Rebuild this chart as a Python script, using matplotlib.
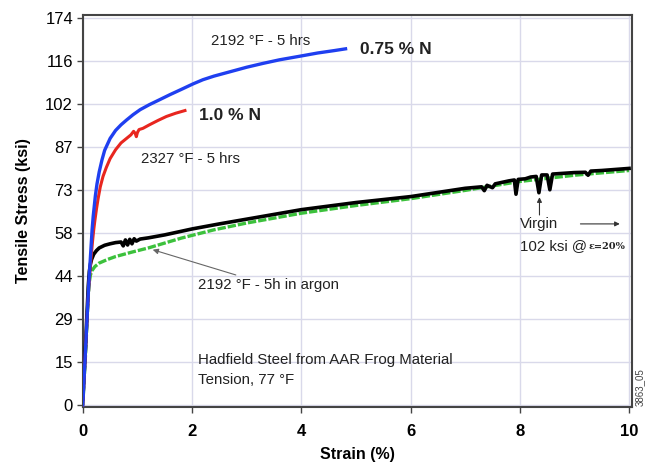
import numpy as np
import matplotlib
matplotlib.use('Agg')
import matplotlib.pyplot as plt

plt.rcParams['font.family'] = ['Liberation Sans', 'DejaVu Sans']

# Данные (деформация, %; напряжение, ksi)
blue_strain = [0, 0.04, 0.08, 0.11, 0.13, 0.15, 0.17, 0.19, 0.21, 0.23, 0.26, 0.3,
               0.35, 0.4, 0.5, 0.6, 0.7, 0.8, 0.92, 1.05, 1.22, 1.4, 1.6, 1.8, 2.02,
               2.2, 2.4, 2.7, 3.0, 3.3, 3.6, 4.0, 4.3, 4.6, 4.81]
blue_stress = [0, 15, 30, 41, 47, 53, 59, 63.5, 67, 70.5, 74.5, 78.5,
               82.5, 85.8, 89.8, 92.5, 94.4, 96, 97.8, 99.5, 101.2, 102.8, 104.6, 106.3, 108.2,
               109.6, 110.8, 112.3, 113.8, 115.1, 116.3, 117.6, 118.6, 119.4, 120]

red_strain = [0, 0.04, 0.08, 0.11, 0.14, 0.16, 0.18, 0.2, 0.22, 0.25, 0.28, 0.32,
              0.37, 0.43, 0.5, 0.6, 0.7, 0.8, 0.88, 0.93, 0.96, 0.98, 1.0, 1.03,
              1.1, 1.22, 1.38, 1.53, 1.7, 1.87]
red_stress = [0, 15, 30, 40, 47, 51.5, 55.5, 59, 62, 66, 69.5, 73.5,
              77, 80, 83, 86, 88.3, 89.8, 91, 92.2, 91.5, 90.4, 91.8, 92.8,
              93.2, 94.4, 95.9, 97.2, 98.3, 99.2]

black_strain = [0, 0.05, 0.1, 0.12, 0.14, 0.16, 0.2, 0.25, 0.3, 0.4, 0.5, 0.6, 0.7,
                0.74, 0.78, 0.82, 0.86, 0.9, 0.94, 0.98, 1.05, 1.2, 1.5, 2.0, 2.5, 3.0,
                3.5, 4.0, 4.5, 5.0, 5.5, 6.0, 6.5, 7.0, 7.3, 7.35, 7.4, 7.5, 7.55, 7.8,
                7.9, 7.93, 7.97, 8.1, 8.2, 8.3, 8.35, 8.4, 8.5, 8.55, 8.6, 9.0, 9.2,
                9.25, 9.3, 9.5, 10.0]
black_stress = [2, 20, 40, 45, 47.5, 49, 50.8, 52, 52.9, 53.8, 54.3, 54.7, 54.9,
                53.6, 55.6, 53.9, 55.8, 54.3, 56.0, 55.2, 55.9, 56.3, 57.3, 59.3, 61, 62.6,
                64.2, 65.8, 67, 68.2, 69.2, 70.2, 71.6, 73, 73.5, 72.2, 74, 73.2, 74.5, 75.5,
                75.8, 71, 76, 76.2, 76.8, 77, 71.5, 77.5, 77.5, 72.5, 77.8, 78.3, 78.4,
                77.4, 78.8, 79, 79.7]

green_strain = [0, 0.05, 0.1, 0.12, 0.14, 0.17, 0.22, 0.3, 0.45, 0.6, 0.9, 1.2, 1.8,
                2.4, 3.0, 4.0, 5.0, 6.0, 7.0, 8.0, 9.0, 10.0]
green_stress = [0, 17, 37, 41.5, 43.8, 45.3, 46.6, 47.8, 49, 50, 51.5, 52.9, 56.2,
                59, 61.3, 64.6, 67.2, 69.5, 72.3, 75.3, 77.4, 79]

ytick_pos = [0, 14.5, 29, 43.5, 58, 72.5, 87, 101.5, 116, 130.5]
ytick_labels = ['0', '15', '29', '44', '58', '73', '87', '102', '116', '174']
xtick_pos = [0, 2, 4, 6, 8, 10]

fig = plt.figure(figsize=(6.52, 4.67), dpi=100)
ax = fig.add_axes([0.127, 0.1285, 0.842, 0.84])

ax.plot(green_strain, green_stress, color='#3cc13c', lw=2.4, ls=(0, (2.5, 0.6)), zorder=2)
ax.plot(black_strain, black_stress, color='black', lw=2.6, zorder=3)
ax.plot(red_strain, red_stress, color='#e8261f', lw=2.2, zorder=4)
ax.plot(blue_strain, blue_stress, color='#1f3ff0', lw=2.4, zorder=5)

ax.set_xlim(0, 10.05)
ax.set_ylim(-0.7, 131.5)
ax.set_xticks(xtick_pos)
ax.set_xticklabels([str(v) for v in xtick_pos], fontweight='bold', fontsize=12)
ax.set_yticks(ytick_pos)
ax.set_yticklabels(ytick_labels, fontsize=12)
ax.tick_params(length=4, width=1, color='#444444', pad=3)
ax.tick_params(axis='x', pad=8)
ax.grid(True, color='#d9d9ea', lw=1)
ax.set_axisbelow(True)
for sp in ax.spines.values():
    sp.set_color('#444444')
    sp.set_linewidth(1.5)

ax.set_xlabel('Strain (%)', fontweight='bold', fontsize=11.5, labelpad=6)
ax.set_ylabel('Tensile Stress (ksi)', fontweight='bold', fontsize=11.5, labelpad=10)

# Подписи
ax.text(2.35, 122.8, '2192 °F - 5 hrs', fontsize=10.8, va='center', color='#222222')
ax.text(5.08, 119.9, '0.75 % N', fontsize=12.5, fontweight='bold', va='center', color='#222222')
ax.text(2.12, 97.4, '1.0 % N', fontsize=12.5, fontweight='bold', va='center', color='#222222')
ax.text(1.06, 82.8, '2327 °F - 5 hrs', fontsize=10.8, va='center', color='#222222')

ax.annotate('2192 °F - 5h in argon', xy=(1.28, 52.3), xytext=(2.1, 40.5),
            fontsize=10.8, va='center', color='#222222',
            arrowprops=dict(arrowstyle='-|>', color='#666666', lw=0.8,
                            shrinkA=0, shrinkB=0, mutation_scale=8))

ax.text(8.0, 61, 'Virgin', fontsize=10.8, va='center', color='#222222')
ax.text(8.0, 53.6, '102 ksi @', fontsize=10.8, va='center', color='#222222')
ax.text(9.25, 53.4, 'ε=20%', fontsize=7, fontweight='bold', family='DejaVu Serif',
        va='center', color='#222222')
ax.annotate('', xy=(8.36, 70), xytext=(8.36, 64),
            arrowprops=dict(arrowstyle='-|>', color='#333333', lw=0.8,
                            shrinkA=0, shrinkB=0, mutation_scale=7))
ax.annotate('', xy=(9.83, 61), xytext=(9.11, 61),
            arrowprops=dict(arrowstyle='-|>', color='#333333', lw=0.8,
                            shrinkA=0, shrinkB=0, mutation_scale=7))

ax.text(2.11, 15.2, 'Hadfield Steel from AAR Frog Material', fontsize=10.8, va='center', color='#222222')
ax.text(2.11, 8.4, 'Tension, 77 °F', fontsize=10.8, va='center', color='#222222')

fig.text(0.981, 0.17, '3863_05', rotation=90, fontsize=7, va='center', ha='center', color='#444444')

fig.savefig('out.png', dpi=100)
